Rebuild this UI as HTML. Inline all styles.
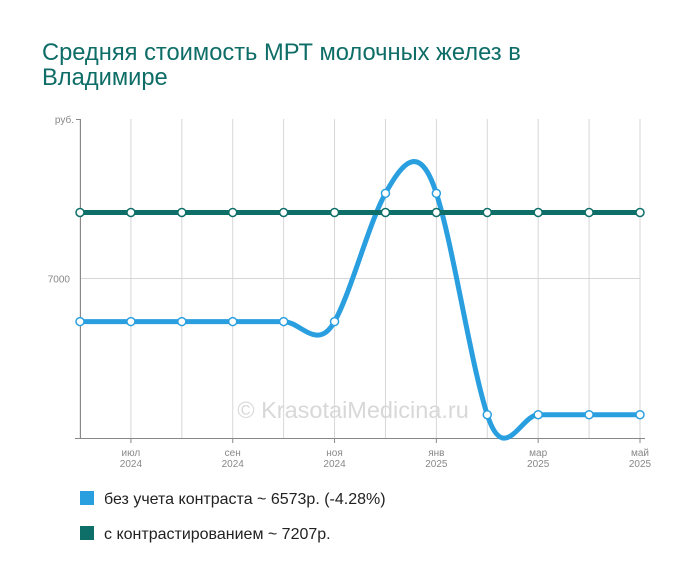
<!DOCTYPE html>
<html><head><meta charset="utf-8"><style>
body{margin:0;background:#fff;width:700px;height:582px;overflow:hidden;font-family:"Liberation Sans",sans-serif}
</style></head><body>
<svg width="700" height="582" xmlns="http://www.w3.org/2000/svg">
<text x="42" y="60" font-size="23.7" fill="#0e6d67">Средняя стоимость МРТ молочных желез в</text>
<text x="42" y="85" font-size="23.7" fill="#0e6d67">Владимире</text>
<g id="grid"></g>
<text x="353" y="418" font-size="23.5" fill="#d8d8d8" text-anchor="middle">© KrasotaiMedicina.ru</text>
<g id="axes"></g>
<g id="series"></g>
<rect x="80" y="491" width="14" height="14" fill="#2a9fe0"/>
<text x="104" y="504" font-size="16" fill="#222">без учета контраста ~ 6573р. (-4.28%)</text>
<rect x="80" y="526" width="14" height="14" fill="#0e6f68"/>
<text x="104" y="539" font-size="16" fill="#222">с контрастированием ~ 7207р.</text>
</svg>
<script>
const months=["июн","июл","авг","сен","окт","ноя","дек","янв","фев","мар","апр","май"];
const years=["2024","2024","2024","2024","2024","2024","2024","2025","2025","2025","2025","2025"];
const labeledIdx=[1,3,5,7,9,11];
const blueValues=[6865,6865,6865,6865,6865,6865,7267,7267,6573,6573,6573,6573];
const greenValues=[7207,7207,7207,7207,7207,7207,7207,7207,7207,7207,7207,7207];
const yTicks=[7000];
const yMin=6500,yMax=7500;
const NS="http://www.w3.org/2000/svg";
const X=i=>80+i*(560/11);
const Y=v=>438-(v-yMin)/(yMax-yMin)*319;
function mk(tag,attrs,parent){const e=document.createElementNS(NS,tag);for(const k in attrs)e.setAttribute(k,attrs[k]);parent.appendChild(e);return e;}
const grid=document.getElementById('grid'),axes=document.getElementById('axes'),ser=document.getElementById('series');
months.forEach((m,i)=>{
 const l=mk('line',{x1:X(i),x2:X(i),y1:119,y2:438,stroke:'#d6d6d6','stroke-width':1},grid);
 
 
});
yTicks.forEach(v=>{
 const l=mk('line',{x1:80,x2:640,y1:Y(v),y2:Y(v),stroke:'#d6d6d6'},grid);
 
 
 const t=mk('text',{x:70,y:Y(v)+4,'font-size':10,fill:'#888','text-anchor':'end'},axes);t.textContent=v;
 
 
});
const ru=mk('text',{x:74,y:123,'font-size':10,fill:'#888','text-anchor':'end'},axes);ru.textContent='руб.';


mk('line',{x1:76,x2:80,y1:119.5,y2:119.5,stroke:'#888'},axes);
const ya=mk('line',{x1:80.5,x2:80.5,y1:119,y2:439,stroke:'#888'},axes);


const xa=mk('line',{x1:75,x2:645,y1:438.5,y2:438.5,stroke:'#888'},axes);


labeledIdx.forEach(i=>{
 mk('line',{x1:X(i),x2:X(i),y1:438,y2:443,stroke:'#888'},axes);
 const t=mk('text',{x:X(i),y:456,'font-size':10,fill:'#888','text-anchor':'middle'},axes);t.textContent=months[i];
 
 
 const t2=mk('text',{x:X(i),y:467,'font-size':10,fill:'#888','text-anchor':'middle'},axes);t2.textContent=years[i];
 
 
});
function spline(vals){
 const k=4.2;
 const p=vals.map((v,i)=>[X(i),Y(v)]);let d=`M${p[0][0]},${p[0][1]}`;
 for(let i=0;i<p.length-1;i++){
  const p0=p[Math.max(0,i-1)],p1=p[i],p2=p[i+1],p3=p[Math.min(p.length-1,i+2)];
  const c1=[p1[0]+(p2[0]-p0[0])/6,p1[1]+(p2[1]-p0[1])/k],c2=[p2[0]-(p3[0]-p1[0])/6,p2[1]-(p3[1]-p1[1])/k];
  d+=` C${c1[0]},${c1[1]} ${c2[0]},${c2[1]} ${p2[0]},${p2[1]}`;
 }return d;
}
function series(vals,color,name){
 const path=mk('path',{d:spline(vals),fill:'none',stroke:color,'stroke-width':5},ser);
 
 
 vals.forEach((v,i)=>{
  const c=mk('circle',{cx:X(i),cy:Y(v),r:4,fill:'#fff',stroke:color,'stroke-width':1.5},ser);
  
  
 });
}
series(blueValues,'#2a9fe0','no-contrast');
series(greenValues,'#0e6f68','contrast');
</script>
</body></html>
